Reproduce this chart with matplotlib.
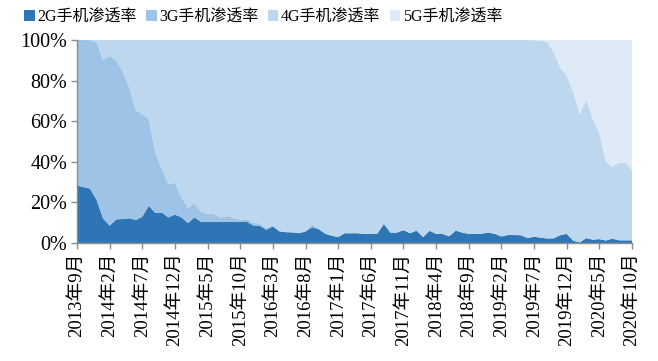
import matplotlib
matplotlib.use("Agg")
import matplotlib.pyplot as plt
from matplotlib.patches import Patch

plt.rcParams['font.family'] = ['Liberation Serif', 'Noto Sans CJK SC']

# Monthly handset penetration by network generation, 2013-09 .. 2020-10 (%)
share_2g = [28.3, 27.5, 26.8, 21.3, 12.0, 8.5, 11.6, 11.8, 12.2, 11.3,
            12.9, 18.3, 14.8, 15.0, 12.6, 14.0, 12.6, 9.8, 12.6, 10.4,
            10.3, 10.4, 10.5, 10.5, 10.5, 10.5, 10.6, 8.6, 8.5, 6.5,
            8.2, 5.7, 5.3, 5.2, 4.8, 5.6, 7.8, 6.8, 4.6, 3.6,
            2.9, 4.8, 4.8, 4.8, 4.4, 4.6, 4.6, 9.4, 5.1, 5.1,
            6.3, 4.8, 6.1, 2.9, 6.0, 4.5, 4.4, 3.3, 6.1, 5.1,
            4.5, 4.5, 4.6, 5.1, 4.5, 3.2, 3.9, 3.9, 3.8, 2.4,
            3.1, 2.6, 2.2, 2.3, 3.8, 4.5, 1.1, 0.3, 2.4, 1.6,
            1.9, 1.2, 2.1, 1.3, 1.3, 1.3]
share_3g = [71.7, 72.5, 73.2, 77.7, 78.2, 83.7, 78.4, 72.7, 64.8, 54.2,
            50.6, 42.7, 30.0, 21.5, 16.4, 15.7, 9.9, 7.5, 6.9, 5.1,
            4.1, 3.8, 2.1, 2.8, 1.8, 1.0, 1.2, 1.5, 1.1, 0.9,
            0.4, 0.2, 0.1, 0.1, 0.1, 0.6, 1.2, 0.4, 0.1, 0.0,
            0.0, 0.0, 0.0, 0.0, 0.0, 0.0, 0.0, 0.0, 0.0, 0.0,
            0.0, 0.0, 0.0, 0.0, 0.0, 0.0, 0.0, 0.0, 0.0, 0.0,
            0.0, 0.0, 0.0, 0.0, 0.0, 0.0, 0.0, 0.0, 0.0, 0.0,
            0.0, 0.0, 0.0, 0.0, 0.0, 0.0, 0.0, 0.0, 0.0, 0.0,
            0.0, 0.0, 0.0, 0.0, 0.0, 0.0]
share_4g = [0.0, 0.0, 0.0, 1.0, 9.8, 7.8, 10.0, 15.5, 23.0, 34.5,
            36.5, 39.0, 55.2, 63.5, 71.0, 70.3, 77.5, 82.7, 80.5, 84.5,
            85.6, 85.8, 87.4, 86.7, 87.7, 88.5, 88.2, 89.9, 90.4, 92.6,
            91.4, 94.1, 94.6, 94.7, 95.1, 93.8, 91.0, 92.8, 95.3, 96.4,
            97.1, 95.2, 95.2, 95.2, 95.6, 95.4, 95.4, 90.6, 94.9, 94.9,
            93.7, 95.2, 93.9, 97.1, 94.0, 95.5, 95.6, 96.7, 93.9, 94.9,
            95.5, 95.5, 95.4, 94.9, 95.5, 96.8, 96.1, 96.1, 96.2, 97.6,
            96.8, 97.1, 96.9, 91.7, 82.7, 78.0, 73.3, 63.2, 68.1, 59.7,
            52.4, 38.8, 35.5, 38.2, 38.3, 34.7]
share_5g = [0.0] * 70 + [0.1, 0.3, 0.9, 6.0, 13.5, 17.5, 25.6, 36.5, 29.5, 38.7,
                         45.7, 60.0, 62.4, 60.5, 60.4, 64.0]

series_names = ['2G手机渗透率', '3G手机渗透率', '4G手机渗透率', '5G手机渗透率']
series_colors = ['#2E75B6', '#9DC3E6', '#BDD7EE', '#DEEBF7']

tick_labels = ['2013年9月', '2014年2月', '2014年7月', '2014年12月', '2015年5月',
               '2015年10月', '2016年3月', '2016年8月', '2017年1月', '2017年6月',
               '2017年11月', '2018年4月', '2018年9月', '2019年2月', '2019年7月',
               '2019年12月', '2020年5月', '2020年10月']

months = list(range(len(share_2g)))

fig = plt.figure(figsize=(6.58, 3.61), dpi=100)
ax = fig.add_axes([0.117, 0.327, 0.8435, 0.562])

ax.stackplot(months, share_2g, share_3g, share_4g, share_5g,
             colors=series_colors, linewidth=0)

ax.set_xlim(0, len(months) - 1)
ax.set_ylim(0, 100)
ax.set_yticks([0, 20, 40, 60, 80, 100])
ax.set_yticklabels([f'{v}%' for v in [0, 20, 40, 60, 80, 100]], fontsize=14.5)
ax.set_xticks(months[::5])
ax.set_xticklabels(tick_labels, rotation=90, fontsize=13.5)

for side in ['top', 'right']:
    ax.spines[side].set_visible(False)
for side in ['left', 'bottom']:
    ax.spines[side].set_color('#8c8c8c')
    ax.spines[side].set_linewidth(1.0)
ax.tick_params(axis='both', direction='out', length=4, color='#8c8c8c',
               width=1.0, pad=3, labelcolor='black')

handles = [Patch(facecolor=c, edgecolor='none') for c in series_colors]
fig.legend(handles, series_names, loc='center left', ncol=4,
           bbox_to_anchor=(0.037, 0.952), frameon=False, fontsize=11.5,
           handlelength=0.65, handleheight=0.65, handletextpad=0.15,
           columnspacing=0.6, borderaxespad=0, borderpad=0)

fig.savefig('out.png', dpi=100)
